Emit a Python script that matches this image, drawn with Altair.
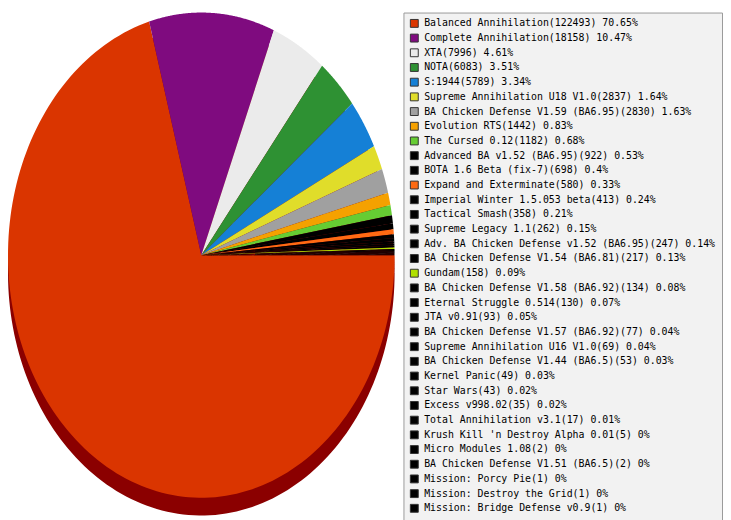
import altair as alt
import pandas as pd

names = [
    "Balanced Annihilation", "Complete Annihilation", "XTA", "NOTA", "S:1944",
    "Supreme Annihilation U18 V1.0", "BA Chicken Defense V1.59 (BA6.95)", "Evolution RTS",
    "The Cursed 0.12", "Advanced BA v1.52 (BA6.95)", "BOTA 1.6 Beta (fix-7)",
    "Expand and Exterminate", "Imperial Winter 1.5.053 beta", "Tactical Smash",
    "Supreme Legacy 1.1", "Adv. BA Chicken Defense v1.52 (BA6.95)",
    "BA Chicken Defense V1.54 (BA6.81)", "Gundam", "BA Chicken Defense V1.58 (BA6.92)",
    "Eternal Struggle 0.514", "JTA v0.91", "BA Chicken Defense V1.57 (BA6.92)",
    "Supreme Annihilation U16 V1.0", "BA Chicken Defense V1.44 (BA6.5)", "Kernel Panic",
    "Star Wars", "Excess v998.02", "Total Annihilation v3.1",
    "Krush Kill 'n Destroy Alpha 0.01", "Micro Modules 1.08",
    "BA Chicken Defense V1.51 (BA6.5)", "Mission: Porcy Pie", "Mission: Destroy the Grid",
    "Mission: Bridge Defense v0.9",
]
counts = [122493, 18158, 7996, 6083, 5789, 2837, 2830, 1442, 1182, 922, 698, 580, 413,
          358, 262, 247, 217, 158, 134, 130, 93, 77, 69, 53, 49, 43, 35, 17, 5, 2, 2, 1, 1, 1]
pcts = ["70.65", "10.47", "4.61", "3.51", "3.34", "1.64", "1.63", "0.83", "0.68", "0.53",
        "0.4", "0.33", "0.24", "0.21", "0.15", "0.14", "0.13", "0.09", "0.08", "0.07",
        "0.05", "0.04", "0.04", "0.03", "0.03", "0.02", "0.02", "0.01", "0", "0", "0",
        "0", "0", "0"]
colors = ["#da3500", "#7f0b7f", "#ebebeb", "#2e9133", "#1580d6", "#e0dd2a", "#a0a0a0",
          "#f5a100", "#66cc33", "#000000", "#000000", "#ff6a13", "#000000", "#000000",
          "#000000", "#000000", "#000000", "#b0e000"] + ["#000000"] * 16

labels = [f"{n}({c}) {p}%" for n, c, p in zip(names, counts, pcts)]
df = pd.DataFrame({"idx": list(range(len(names))), "name": names, "count": counts, "label": labels})

N = 160

base = alt.Chart(df).transform_window(
    cum="sum(count)", sort=[alt.SortField("idx", order="ascending")], frame=[None, 0]
).transform_joinaggregate(
    total="sum(count)"
).transform_calculate(
    a0="2*PI*(datum.cum - datum.count)/datum.total",
    a1="2*PI*datum.cum/datum.total",
    seq="sequence(0, %d)" % (N + 2),
).transform_flatten(
    ["seq"]
).transform_calculate(
    ang="datum.a0 + (datum.a1 - datum.a0)*(datum.seq - 1)/%d" % N,
    px="datum.seq == 0 ? 0 : cos(datum.ang)",
    py="datum.seq == 0 ? 0 : -sin(datum.ang)",
)

x = alt.X("px:Q", scale=alt.Scale(domain=[-1, 1], nice=False, zero=False), axis=None)
y = alt.Y("py:Q", scale=alt.Scale(domain=[-1, 1], nice=False, zero=False), axis=None)

shadow = base.mark_line(filled=True, color="#8b0000", yOffset=18).encode(
    x=x, y=y, detail="label:N", order=alt.Order("seq:Q")
)

pie = base.mark_line(filled=True, strokeWidth=0).encode(
    x=x,
    y=y,
    color=alt.Color(
        "label:N",
        scale=alt.Scale(domain=labels, range=colors),
        sort=labels,
        legend=alt.Legend(
            orient="none", legendX=401, legendY=0, title=None,
            symbolType="square", symbolSize=64, symbolStrokeColor="#333333",
            symbolStrokeWidth=1, symbolOpacity=1, labelFont="DejaVu Sans Mono",
            labelFontSize=10, labelColor="#000000", labelLimit=400, labelOffset=5,
            rowPadding=2.9, padding=6, fillColor="#f2f2f2", strokeColor="#999999",
            symbolLimit=60, direction="vertical",
        ),
    ),
    order=alt.Order("seq:Q"),
)

chart = alt.layer(shadow, pie).properties(
    width=392, height=492, padding=0
).configure_view(strokeWidth=0)

chart.save("out.html", embed_options={"renderer": "svg", "actions": False})
